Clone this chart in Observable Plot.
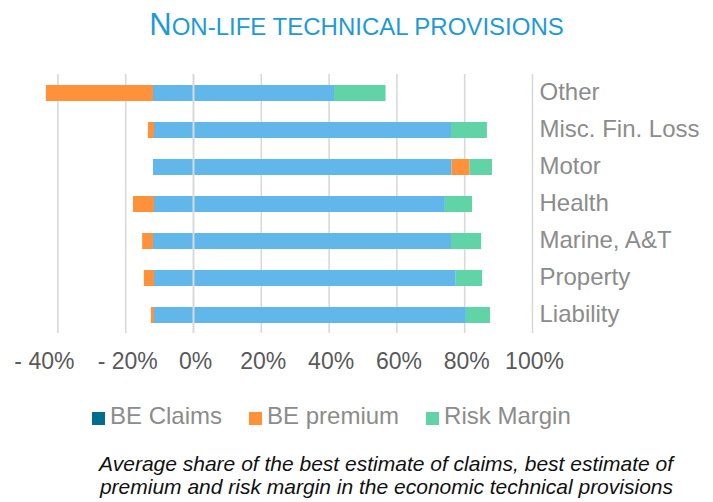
<!DOCTYPE html>
<html>
<head>
<meta charset="utf-8">
<script src="https://cdn.jsdelivr.net/npm/d3@7"></script>
<script src="https://cdn.jsdelivr.net/npm/@observablehq/plot@0.6"></script>
<style>
  html, body { margin: 0; padding: 0; background: #fff; }
  body { width: 713px; height: 502px; position: relative; overflow: hidden;
         font-family: "Liberation Sans", Arial, sans-serif; }
  #title { position: absolute; top: 9px; left: 0; width: 713px; text-align: center;
           color: #1e9ad6; font-size: 31px; line-height: 31px; white-space: nowrap; }
  #title .sc { font-size: 24px; }
  #chart { position: absolute; top: 50px; left: 0; }
  #legend { position: absolute; top: 404px; left: 92px; display: flex; gap: 27px;
            font-size: 24px; line-height: 24px; color: #8c8c8c; white-space: nowrap; }
  #legend .item { display: flex; align-items: flex-start; }
  #legend .sw { width: 13px; height: 13px; margin-top: 7.7px; margin-right: 5px; }
  #caption { position: absolute; top: 453px; right: 40px; text-align: right;
             font-style: italic; font-size: 21px; line-height: 22.5px; color: #111; white-space: nowrap; }
</style>
</head>
<body>
<div id="title"><span>N</span><span class="sc">ON-LIFE TECHNICAL PROVISIONS</span></div>
<div id="chart"></div>
<div id="legend"></div>
<div id="caption">Average share of the best estimate of claims, best estimate of<br>premium and risk margin in the economic technical provisions</div>
<script>
// ---- data (in % of the axis) ----
const categories = ["Other", "Misc. Fin. Loss", "Motor", "Health", "Marine, A&T", "Property", "Liability"];
const claimsFrom = [-11.8, -11.5, -11.8, -11.5, -11.8, -11.5, -11.5];
const claimsTo   = [41.6, 76.1, 76.3, 74.3, 76.1, 77.5, 80.5];
const bePremium  = [-31.6, -1.8, 5.3, -6.2, -3.2, -3.0, -0.9];
const riskMargin = [15.2, 10.6, 6.6, 8.0, 8.9, 7.8, 7.1];
const xTicks = [-40, -20, 0, 20, 40, 60, 80, 100];
const seriesNames = ["BE Claims", "BE premium", "Risk Margin"];
const legendColors = ["#006c8e", "#ff913b", "#60d3a7"];
const barColors = ["#62b7ea", "#ff913b", "#60d3a7"];

// ---- build segments ----
const segments = [];
categories.forEach((c, i) => {
  const a = claimsFrom[i], b = claimsTo[i], p = bePremium[i], r = riskMargin[i];
  segments.push({category: c, series: seriesNames[0], x1: a, x2: b});
  let end = b;
  if (p < 0) segments.push({category: c, series: seriesNames[1], x1: a + p, x2: a});
  else { segments.push({category: c, series: seriesNames[1], x1: b, x2: b + p}); end = b + p; }
  segments.push({category: c, series: seriesNames[2], x1: end, x2: end + r});
});
const fillOf = d => barColors[seriesNames.indexOf(d.series)];
const fmt = d => d < 0 ? `- ${-d}%` : `${d}%`;

const chart = Plot.plot({
  width: 713,
  height: 330,
  marginLeft: 23.5,
  marginRight: 181,
  marginTop: 24,
  marginBottom: 47,
  style: {fontFamily: "'Liberation Sans', Arial, sans-serif", background: "transparent", overflow: "visible"},
  x: {domain: [-50, 100]},
  y: {domain: categories, paddingInner: 0.57, paddingOuter: 0.285},
  marks: [
    Plot.ruleX(xTicks.filter(d => d !== 0), {stroke: "#d9d9d9", strokeWidth: 1.6}),
    Plot.barX(segments, {y: "category", x1: "x1", x2: "x2", fill: fillOf}),
    Plot.ruleX([0], {stroke: "#d9d9d9", strokeWidth: 2}),
    Plot.axisY({anchor: "right", tickSize: 0, tickPadding: 7, fontSize: 24, fill: "#8c8c8c", dy: -1, label: null}),
    Plot.axisX({ticks: xTicks.filter(d => d !== -40), tickSize: 0, tickPadding: 19.5, fontSize: 23, fill: "#595959", tickFormat: fmt, dx: 2, label: null}),
    Plot.axisX({ticks: xTicks.filter(d => d === -40), tickSize: 0, tickPadding: 19.5, fontSize: 23, fill: "#595959", tickFormat: fmt, dx: -13.5, label: null})
  ]
});
document.getElementById("chart").appendChild(chart);

// ---- legend ----
const legend = document.getElementById("legend");
seriesNames.forEach((name, i) => {
  const item = document.createElement("div");
  item.className = "item";
  const sw = document.createElement("span");
  sw.className = "sw";
  sw.style.background = legendColors[i];
  const label = document.createElement("span");
  label.textContent = name;
  item.appendChild(sw);
  item.appendChild(label);
  legend.appendChild(item);
});
</script>
</body>
</html>
